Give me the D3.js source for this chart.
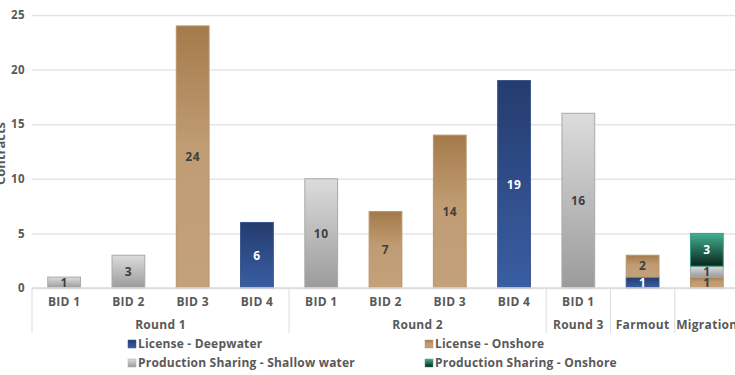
<!DOCTYPE html>
<html>
<head>
<meta charset="utf-8">
<script src="https://cdn.jsdelivr.net/npm/d3@7"></script>
<style>
  html, body { margin: 0; padding: 0; background: #fff; overflow: hidden; }
  svg { display: block; font-family: "Open Sans", Lato, sans-serif; }
</style>
</head>
<body>
<svg id="chart" width="735" height="375"></svg>
<script>
// Contracts by bidding round and contract type
const categories = ["R1-BID1", "R1-BID2", "R1-BID3", "R1-BID4", "R2-BID1", "R2-BID2", "R2-BID3", "R2-BID4", "R3-BID1", "Farmout", "Migration"];
const bidLabels  = ["BID 1", "BID 2", "BID 3", "BID 4", "BID 1", "BID 2", "BID 3", "BID 4", "BID 1", "", ""];
const groups = [
  { name: "Round 1",   from: 0,  to: 3 },
  { name: "Round 2",   from: 4,  to: 7 },
  { name: "Round 3",   from: 8,  to: 8 },
  { name: "Farmout",   from: 9,  to: 9 },
  { name: "Migration", from: 10, to: 10 }
];
const seriesNames = ["License - Deepwater", "License - Onshore", "Production Sharing - Shallow water", "Production Sharing - Onshore"];
const licenseDeepwater = [0, 0, 0, 6, 0, 0, 0, 19, 0, 1, 0];
const licenseOnshore   = [0, 0, 24, 0, 0, 7, 14, 0, 0, 2, 1];
const psShallowWater   = [1, 3, 0, 0, 10, 0, 0, 0, 16, 0, 1];
const psOnshore        = [0, 0, 0, 0, 0, 0, 0, 0, 0, 0, 3];
const yTicks = [0, 5, 10, 15, 20, 25];

const seriesValues = [licenseDeepwater, licenseOnshore, psShallowWater, psOnshore];
const rows = categories.map((c, i) => {
  const r = { cat: c };
  seriesNames.forEach((s, k) => r[s] = seriesValues[k][i]);
  return r;
});

const styles = {
  "License - Deepwater": { id: "gDeep", stops: [[0, "#243c6e"], [1, "#3a5ea3"]], stroke: "#3a5590", text: "#ffffff" },
  "License - Onshore": { id: "gOn", stops: [[0, "#a47a4a"], [0.45, "#c09c73"], [1, "#c3a17a"]], stroke: "#b8966b", text: "#3f3f3f" },
  "Production Sharing - Shallow water": { id: "gShal", stops: [[0, "#dcdcdc"], [1, "#9b9b9b"]], stroke: "#a9a9a9", text: "#3f3f3f" },
  "Production Sharing - Onshore": { id: "gPsOn", stops: [[0, "#43b191"], [1, "#08241c"]], stroke: "#3a9c80", text: "#ffffff" }
};

const svg = d3.select("#chart");
const defs = svg.append("defs");
seriesNames.forEach(s => {
  const g = defs.append("linearGradient").attr("id", styles[s].id)
    .attr("x1", 0).attr("y1", 0).attr("x2", 0).attr("y2", 1);
  styles[s].stops.forEach(([o, c]) => g.append("stop").attr("offset", o).attr("stop-color", c));
});

const plotLeft = 32, plotRight = 739, plotTop = 15, plotBottom = 288;
const x = d3.scaleBand().domain(categories).range([plotLeft, plotRight]).paddingInner(0.49).paddingOuter(0.245);
const y = d3.scaleLinear().domain([0, 25]).range([plotBottom, plotTop]);
const labelColor = "#595959";

// gridlines and tick labels
const yAxis = svg.append("g").attr("transform", `translate(${plotLeft},0)`)
  .call(d3.axisLeft(y).tickValues(yTicks).tickSize(-(735 - plotLeft)).tickPadding(7));
yAxis.select(".domain").remove();
yAxis.selectAll(".tick line").attr("stroke", "#e4e4e4").attr("stroke-width", 1.5);
yAxis.selectAll(".tick text").attr("fill", labelColor).attr("font-size", 11.5).attr("font-weight", 700)
  .attr("letter-spacing", 0.4).attr("font-family", "'Open Sans', sans-serif");

// y axis title
svg.append("text").attr("transform", `translate(5,${(plotTop + plotBottom) / 2 + 2}) rotate(-90)`)
  .attr("text-anchor", "middle").attr("fill", labelColor).attr("font-size", 13).attr("font-weight", 700)
  .text("Contracts");

// stacked bars
const stacked = d3.stack().keys(seriesNames)(rows);
const layers = svg.append("g").selectAll("g").data(stacked).join("g");
layers.selectAll("rect").data(d => d.map(p => ({ p, key: d.key })).filter(e => e.p[1] > e.p[0]))
  .join("rect")
  .attr("x", e => x(e.p.data.cat))
  .attr("width", x.bandwidth())
  .attr("y", e => y(e.p[1]))
  .attr("height", e => y(e.p[0]) - y(e.p[1]))
  .attr("fill", e => `url(#${styles[e.key].id})`)
  .attr("stroke", e => styles[e.key].stroke)
  .attr("stroke-width", 1);

// value labels
layers.selectAll("text").data(d => d.map(p => ({ p, key: d.key })).filter(e => e.p[1] > e.p[0]))
  .join("text")
  .attr("x", e => x(e.p.data.cat) + x.bandwidth() / 2)
  .attr("y", e => (y(e.p[0]) + y(e.p[1])) / 2)
  .attr("dy", "0.36em")
  .attr("text-anchor", "middle")
  .attr("font-size", 12).attr("font-weight", 700).attr("letter-spacing", 0.5)
  .attr("fill", e => styles[e.key].text)
  .text(e => e.p[1] - e.p[0]);

// category axis: baseline, group separators, labels
const axisG = svg.append("g");
axisG.append("line").attr("x1", plotLeft).attr("x2", 735).attr("y1", y(0)).attr("y2", y(0))
  .attr("stroke", "#dcdcdc").attr("stroke-width", 1.5);
const step = x.step();
const bandStart = i => plotLeft + i * step;
const seps = [0].concat(groups.map(g => g.to + 1));
axisG.selectAll("line.sep").data(seps).join("line").attr("class", "sep")
  .attr("x1", i => bandStart(i)).attr("x2", i => bandStart(i))
  .attr("y1", y(0)).attr("y2", 333)
  .attr("stroke", "#dcdcdc").attr("stroke-width", 1);
axisG.selectAll("text.bid").data(categories).join("text").attr("class", "bid")
  .attr("x", c => x(c) + x.bandwidth() / 2).attr("y", 302).attr("dy", "0.36em")
  .attr("text-anchor", "middle").attr("font-size", 12).attr("font-weight", 700).attr("letter-spacing", 0.3)
  .attr("fill", labelColor)
  .text((c, i) => bidLabels[i]);
axisG.selectAll("text.grp").data(groups).join("text").attr("class", "grp")
  .attr("x", g => (bandStart(g.from) + bandStart(g.to + 1)) / 2).attr("y", 325).attr("dy", "0.36em")
  .attr("text-anchor", "middle").attr("font-size", 12).attr("font-weight", 700).attr("letter-spacing", 0.3)
  .attr("fill", labelColor)
  .text(g => g.name);

// legend
const legendPos = [[128, 344], [425, 344], [128, 363], [425, 363]];
const legend = svg.append("g").selectAll("g").data(seriesNames).join("g")
  .attr("transform", (s, i) => `translate(${legendPos[i][0]},${legendPos[i][1]})`);
legend.append("rect").attr("x", 0).attr("y", -4).attr("width", 8).attr("height", 8)
  .attr("fill", s => `url(#${styles[s].id})`).attr("stroke", s => styles[s].stroke).attr("stroke-width", 0.5);
legend.append("text").attr("x", 10).attr("dy", "0.36em").attr("font-size", 12).attr("font-weight", 700)
  .attr("letter-spacing", 0.2)
  .attr("fill", labelColor).text(s => s);
</script>
</body>
</html>
